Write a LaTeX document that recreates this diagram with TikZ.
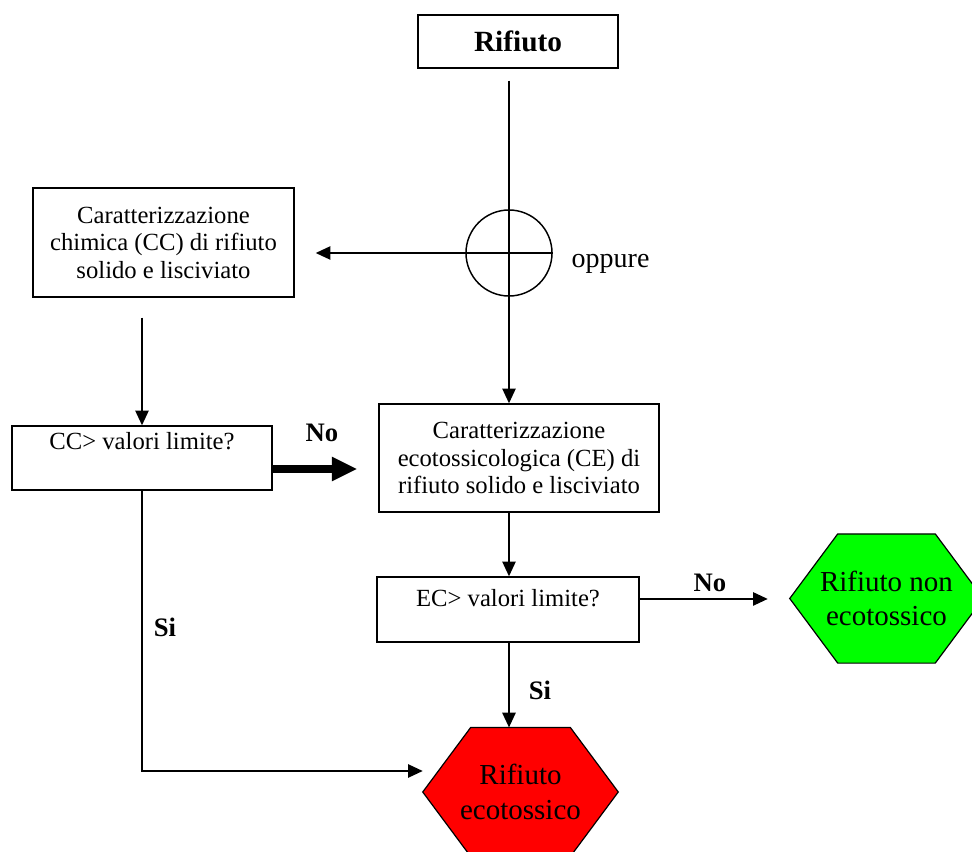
\documentclass[tikz,border=0pt]{standalone}
\usepackage{fontspec}
\setmainfont{Liberation Serif}
\usetikzlibrary{arrows.meta,backgrounds}

\begin{document}
\begin{tikzpicture}[x=0.75pt,y=-0.75pt,
  scatola/.style={draw,line width=1.1pt,align=center,inner sep=0pt,font=\fontsize{18.5}{20.6}\selectfont},
  domanda/.style={draw,line width=1.1pt,inner sep=0pt,font=\fontsize{18.5}{20.6}\selectfont},
  esagono/.style={align=center,inner sep=0pt,minimum height=96.5pt,font=\fontsize{21.75}{26}\selectfont},
  etichetta/.style={font=\fontsize{20}{24}\selectfont\bfseries},
  freccia/.style={-{Triangle[length=11pt,width=10pt]},line width=1.1pt}]
  \useasboundingbox (0,0) rectangle (972,852);
  % scatole
  \node[scatola,minimum width=150pt,minimum height=39.75pt,font=\fontsize{22}{26}\selectfont\bfseries] (rifiuto) at (518,41.5) {Rifiuto};
  \node[scatola,minimum width=195.75pt,minimum height=81.75pt] (cc) at (163.5,242.5) {Caratterizzazione\\chimica (CC) di rifiuto\\solido e lisciviato};
  \node[draw,circle,line width=1.1pt,minimum size=64.5pt,inner sep=0pt] (bivio) at (509,253) {};
  \node[anchor=base west,font=\fontsize{21}{24}\selectfont] (oppure) at (567,268) {oppure};
  \node[domanda,minimum width=195pt,text height=18pt,text depth=30pt] (ccq) at (142,458) {CC> valori limite?};
  \node[scatola,minimum width=210pt,minimum height=81pt] (ce) at (519,458) {Caratterizzazione\\ecotossicologica (CE) di\\rifiuto solido e lisciviato};
  \node[domanda,minimum width=196.5pt,text height=22pt,text depth=26.75pt] (ecq) at (508,609.5) {EC> valori limite?};
  \node[esagono,minimum width=144.75pt] (verde) at (886.5,598.5) {Rifiuto non\\ecotossico};
  \node[esagono,minimum width=146.25pt] (rosso) at (520.5,792) {Rifiuto\\ecotossico};
  % esagoni
  \begin{scope}[on background layer]
    \foreach \n/\c in {verde/green,rosso/red}
      \draw[fill=\c,line width=0.9pt] (\n.west) -- ([xshift=36pt]\n.north west) -- ([xshift=-36pt]\n.north east)
        -- (\n.east) -- ([xshift=-36pt]\n.south east) -- ([xshift=36pt]\n.south west) -- cycle;
  \end{scope}
  % collegamenti
  \draw[freccia,shorten <=9pt] (rifiuto.south -| bivio) -- (ce.north -| bivio);
  \draw[freccia,shorten >=15.75pt] (bivio.east) -- (bivio.center -| cc.east);
  \draw[freccia,shorten <=15pt] (cc.south -| ccq.north) -- (ccq.north);
  \coordinate (nopart) at ([yshift=-8.25pt]ccq.east);
  \draw[-{Triangle[length=19pt,width=17pt]},line width=6pt,shorten >=15.75pt] (nopart) -- (nopart -| ce.west);
  \draw[freccia] (ce.south -| bivio) -- (ecq.north -| bivio);
  \coordinate (ecpart) at ([yshift=7.9pt]ecq.east);
  \draw[freccia,shorten >=16.5pt] (ecpart) -- (ecpart -| verde.west);
  \draw[freccia] (ecq.south -| bivio) -- (rosso.north -| bivio);
  \draw[freccia] (ccq.south) |- ([yshift=15.75pt]rosso.west);
  % etichette
  \node[etichetta] (no1) at (322,433) {No};
  \node[etichetta] (no2) at (710,583) {No};
  \node[etichetta] (si1) at (165,627) {Si};
  \node[etichetta] (si2) at (540,690) {Si};
\end{tikzpicture}
\end{document}
